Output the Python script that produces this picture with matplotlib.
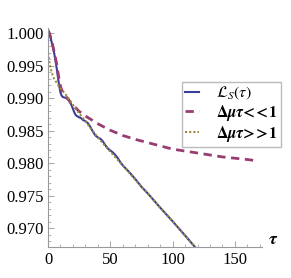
import matplotlib
matplotlib.use("Agg")
import matplotlib.pyplot as plt
from matplotlib.ticker import MultipleLocator

# values
tau_ls = [0, 1, 2, 3, 4, 5, 6, 7, 8, 9, 10, 11, 12, 13, 14, 15, 16, 17, 18, 19,
          20, 21, 22, 23, 24, 25, 26, 27, 28, 29, 30, 32, 34, 36, 38, 40, 42, 44,
          46, 48, 50, 52, 54, 56, 58, 60, 65, 70, 75, 80, 90, 100, 110, 120]
ls_vals = [1.0005, 1.0000, 0.9994, 0.9986, 0.9978, 0.9969, 0.9958, 0.9946, 0.9932,
           0.9919, 0.9909, 0.9904, 0.9902, 0.99015, 0.9901, 0.9900, 0.9899, 0.9897,
           0.9893, 0.9889, 0.9884, 0.9879, 0.9875, 0.9873, 0.9872, 0.9871, 0.9870,
           0.9869, 0.9867, 0.9866, 0.9865, 0.9862, 0.9856, 0.9849, 0.9843, 0.9840,
           0.9838, 0.9834, 0.9828, 0.9823, 0.9820, 0.9817, 0.9813, 0.9808, 0.9802,
           0.9797, 0.9787, 0.9776, 0.9764, 0.9754, 0.9732, 0.9711, 0.9689, 0.9667]

tau_short = [0, 1, 2, 3, 4, 5, 6, 7, 8, 9, 10, 11, 12, 14, 16, 18, 20, 22, 25, 28,
             30, 35, 40, 45, 50, 60, 70, 80, 90, 100, 110, 120, 130, 140, 150, 160, 168]
short_vals = [1.0005, 1.0001, 0.9995, 0.9988, 0.9980, 0.9971, 0.9962, 0.9952, 0.9940,
              0.9928, 0.9919, 0.9913, 0.9909, 0.9904, 0.9899, 0.9894, 0.9890, 0.9886,
              0.9880, 0.9876, 0.9873, 0.9867, 0.9861, 0.9856, 0.9851, 0.9843, 0.9837,
              0.9832, 0.9827, 0.9822, 0.9819, 0.9816, 0.9813, 0.9810, 0.9808, 0.9806,
              0.9804]

tau_long = [0, 1, 2, 3, 4, 5, 6, 8, 10, 12, 15, 20, 25, 30, 35, 40, 50, 60, 70, 80,
            90, 100, 110, 120]
long_vals = [0.9970, 0.9957, 0.9947, 0.9940, 0.9934, 0.9930, 0.9927, 0.9921, 0.9915,
             0.9911, 0.9904, 0.9890, 0.9877, 0.9865, 0.9852, 0.9840, 0.9818, 0.9797,
             0.9775, 0.9754, 0.9732, 0.9711, 0.9689, 0.9667]

labels = [r"$\mathcal{L}_S(\tau)$",
          r"$\mathbf{\Delta}\boldsymbol{\mu\tau}\!\mathbf{<}\!\!\mathbf{<}\!\mathbf{1}$",
          r"$\mathbf{\Delta}\boldsymbol{\mu\tau}\!\mathbf{>}\!\!\mathbf{>}\!\mathbf{1}$"]

plt.rcParams["font.family"] = "Liberation Serif"
plt.rcParams["mathtext.fontset"] = "stix"

fig = plt.figure(figsize=(2.91, 2.78), dpi=100)
ax = fig.add_axes([0.165, 0.110, 0.734, 0.789])

ax.plot(tau_ls, ls_vals, color=(0.24, 0.24, 0.6), lw=1.5, label=labels[0])
ax.plot(tau_short, short_vals, color=(0.6, 0.24, 0.442), lw=2, ls=(0, (3, 2)),
        label=labels[1])
ax.plot(tau_long, long_vals, color=(0.6, 0.547, 0.24), lw=1.5, ls=(0, (1, 1)),
        label=labels[2])

ax.set_xlim(0, 171.4)
ax.set_ylim(0.96708, 1.00082)

for s in ["top", "right"]:
    ax.spines[s].set_visible(False)
for s in ["left", "bottom"]:
    ax.spines[s].set_color("#999999")
    ax.spines[s].set_linewidth(0.8)

ax.xaxis.set_major_locator(MultipleLocator(50))
ax.xaxis.set_minor_locator(MultipleLocator(10))
ax.yaxis.set_major_locator(MultipleLocator(0.005))
ax.yaxis.set_minor_locator(MultipleLocator(0.001))
ax.yaxis.set_major_formatter(matplotlib.ticker.FormatStrFormatter("%.3f"))
ax.tick_params(which="both", direction="in", color="#999999", labelsize=12,
               pad=3)
ax.tick_params(which="major", length=4, width=0.6)
ax.tick_params(which="minor", length=2, width=0.5)

fig.text(273 / 291, 1 - 240 / 278, r"$\boldsymbol{\tau}$", fontsize=13,
         ha="center", va="center")

ax.legend(loc="upper left", bbox_to_anchor=(182 / 291, 1 - 81.7 / 278),
          bbox_transform=fig.transFigure, borderaxespad=0, frameon=True,
          fancybox=False, edgecolor="#aaaaaa", fontsize=11.5, handlelength=0.85,
          handletextpad=1.1, labelspacing=0.05, borderpad=0.2)

fig.savefig("out.png", dpi=100)
